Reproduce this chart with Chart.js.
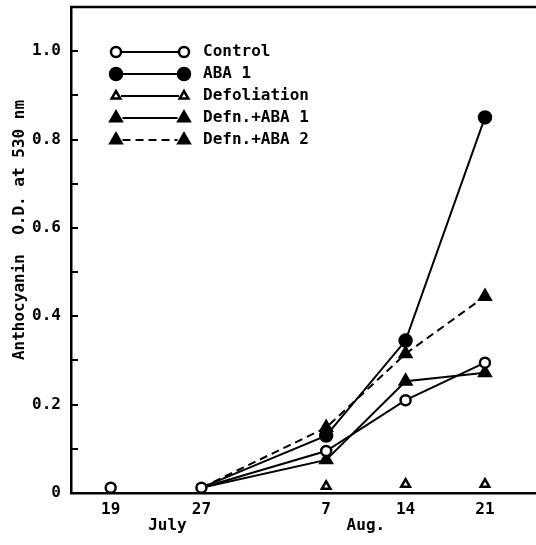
<!DOCTYPE html>
<html>
<head>
<meta charset="utf-8">
<script src="https://cdn.jsdelivr.net/npm/chart.js@4/dist/chart.umd.min.js"></script>
<style>
  body { margin: 0; background: #fff; }
</style>
</head>
<body>
<canvas id="chart" width="536" height="545"></canvas>
<script>
// days counted from 19 July
const days = [0, 8, 19, 26, 33];
const dayLabels = ['19', '27', '7', '14', '21'];
// month names, centred under their dates (in days from 19 July)
const months = ['July', 'Aug.'];
const monthCentres = [5, 22.5];
const yTitle = 'Anthocyanin  O.D. at 530 nm';

const seriesNames = ['Control', 'ABA 1', 'Defoliation', 'Defn.+ABA 1', 'Defn.+ABA 2'];
const control = [0.012, 0.012, 0.095, 0.21, 0.295];
const aba1 = [null, 0.012, 0.13, 0.345, 0.85];
const defoliation = [null, null, 0.015, 0.02, 0.02];
const defnAba1 = [null, 0.012, 0.075, 0.253, 0.272];
const defnAba2 = [null, 0.012, 0.148, 0.315, 0.445];

const FONT = "'DejaVu Sans Mono', monospace";
const ink = '#000';

const toPoints = (vals) => days.map((d, i) => ({x: d, y: vals[i]}));

function series(label, vals, style) {
  return Object.assign({
    label: label,
    data: toPoints(vals),
    borderColor: ink,
    borderWidth: 2,
    pointBorderColor: ink,
    pointBorderWidth: 2.5,
    spanGaps: false,
  }, style);
}

// marker size per point, hidden at 27 July where the lines leave the control point
const radii = (r) => days.map((d, i) => i === 1 ? 0 : r);

const datasets = [
  series(seriesNames[0], control, {
    pointStyle: 'circle', pointRadius: 5, pointBackgroundColor: '#fff',
    // no line between 19 and 27 July
    segment: { borderColor: ctx => ctx.p0DataIndex === 0 ? 'rgba(0,0,0,0)' : undefined },
  }),
  series(seriesNames[1], aba1, {
    pointStyle: 'circle', pointRadius: radii(6), pointBackgroundColor: ink,
  }),
  series(seriesNames[2], defoliation, {
    pointStyle: 'triangle', pointRadius: 5, pointBackgroundColor: '#fff', showLine: false,
  }),
  series(seriesNames[3], defnAba1, {
    pointStyle: 'triangle', pointRadius: radii(6.5), pointBackgroundColor: ink,
  }),
  series(seriesNames[4], defnAba2, {
    pointStyle: 'triangle', pointRadius: radii(6.5), pointBackgroundColor: ink,
    borderDash: [8, 5],
  }),
];

//draws the inward tick marks, top frame, axis title, month names and the legend
const paperPlugin = {
  id: 'paper',
  afterDraw(chart) {
    const ctx = chart.ctx;
    const area = chart.chartArea;
    const x = chart.scales.x;
    const y = chart.scales.y;
    ctx.save();
    ctx.strokeStyle = ink;
    ctx.fillStyle = ink;

    //top frame line
    ctx.lineWidth = 2.5;
    ctx.beginPath();
    ctx.moveTo(area.left - 1, area.top);
    ctx.lineTo(area.right, area.top);
    ctx.stroke();

    //tick marks pointing into the plot
    ctx.lineWidth = 2;
    y.ticks.forEach(t => {
      if (t.value <= 0.001 || t.value > 1.05) return;
      const py = Math.round(y.getPixelForValue(t.value));
      ctx.beginPath();
      ctx.moveTo(area.left, py);
      ctx.lineTo(area.left + 7, py);
      ctx.stroke();
    });

    ctx.font = 'bold 16px ' + FONT;
    ctx.textAlign = 'center';
    ctx.textBaseline = 'middle';

    //y axis title, sitting a little above the middle as in the print
    ctx.save();
    ctx.translate(20, area.top + 223);
    ctx.rotate(-Math.PI / 2);
    ctx.fillText(yTitle, 0, 0);
    ctx.restore();

    //month names under the dates
    months.forEach((m, i) => {
      ctx.fillText(m, x.getPixelForValue(monthCentres[i]), area.bottom + 33);
    });

    //legend: marker -- line -- marker  name
    const lx1 = area.left + 45, lx2 = area.left + 113, tx = area.left + 132;
    chart.data.datasets.forEach((ds, i) => {
      const ly = area.top + 45 + i * 22;
      const filled = ds.pointBackgroundColor === ink;
      const r = ds.pointStyle === 'circle' ? (filled ? 6 : 5) : (filled ? 6.5 : 5);
      ctx.lineWidth = 2;
      ctx.strokeStyle = ink;
      ctx.setLineDash(ds.borderDash || []);
      ctx.beginPath();
      ctx.moveTo(lx1 + r, ly);
      ctx.lineTo(lx2 - r, ly);
      ctx.stroke();
      ctx.setLineDash([]);
      [lx1, lx2].forEach(px => {
        ctx.fillStyle = ds.pointBackgroundColor;
        ctx.strokeStyle = ink;
        ctx.lineWidth = 2.5;
        Chart.helpers.drawPoint(ctx, {pointStyle: ds.pointStyle, radius: r, rotation: 0, borderWidth: 2.5}, px, ly);
      });
      ctx.fillStyle = ink;
      ctx.textAlign = 'left';
      ctx.fillText(ds.label, tx, ly);
    });
    ctx.restore();
  }
};

new Chart(document.getElementById('chart'), {
  type: 'line',
  data: { datasets: datasets },
  plugins: [paperPlugin],
  options: {
    responsive: false,
    animation: false,
    layout: { autoPadding: false, padding: { top: 7, right: 0, left: 0, bottom: 0 } },
    plugins: {
      legend: { display: false },
      tooltip: { enabled: false },
    },
    scales: {
      x: {
        type: 'linear',
        min: -3.5,
        max: 37.5,
        afterFit: (scale) => {
          scale.height = 52;
          scale.paddingLeft = 0;
          scale.paddingRight = 0;
        },
        afterBuildTicks: (scale) => { scale.ticks = days.map(v => ({value: v})); },
        grid: { display: false, drawTicks: false },
        border: { display: true, color: ink, width: 2.5 },
        ticks: {
          autoSkip: false,
          maxRotation: 0,
          padding: 7,
          color: ink,
          font: { family: FONT, size: 16, weight: 'bold' },
          callback: (v) => dayLabels[days.indexOf(v)],
        },
      },
      y: {
        min: 0,
        max: 1.1,
        afterFit: (scale) => {
          scale.width = 71;
          scale.paddingTop = 0;
          scale.paddingBottom = 0;
        },
        grid: { display: false, drawTicks: false },
        border: { display: true, color: ink, width: 2.5 },
        ticks: {
          stepSize: 0.1,
          padding: 10,
          color: ink,
          font: { family: FONT, size: 16, weight: 'bold' },
          callback: (v) => {
            const k = Math.round(v * 10);
            if (k % 2 !== 0 || k > 10) return '';
            return k === 0 ? '0' : (k / 10).toFixed(1);
          },
        },
      },
    },
  },
});
</script>
</body>
</html>
